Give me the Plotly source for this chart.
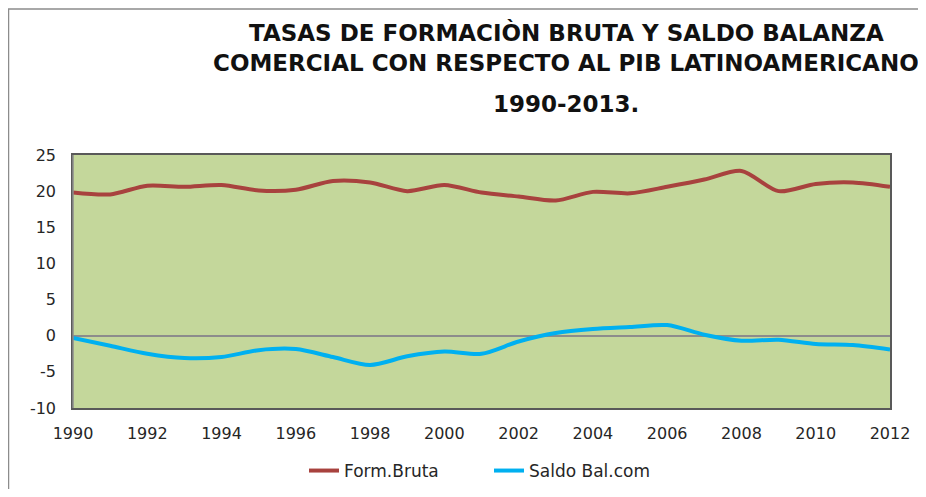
import plotly.graph_objects as go

years = list(range(1990, 2013))
form_bruta = [19.8, 19.55, 20.75, 20.6, 20.85, 20.1, 20.2, 21.4, 21.2, 20.0, 20.85,
              19.8, 19.25, 18.7, 19.9, 19.7, 20.6, 21.6, 22.8, 20.0, 21.0, 21.2, 20.6]
saldo_bal = [-0.32, -1.4, -2.5, -3.1, -2.95, -2.0, -1.85, -2.95, -4.05, -2.85, -2.2,
             -2.5, -0.8, 0.37, 0.92, 1.2, 1.47, 0.14, -0.7, -0.55, -1.15, -1.3, -1.9]

y_tick_vals = [-10, -5, 0, 5, 10, 15, 20, 25]
y_tick_labels = ["-10", "-5", "0", "5", "10", "15", "20", "25"]

title_lines = ["TASAS DE FORMACIÒN BRUTA Y SALDO BALANZA",
               "COMERCIAL CON RESPECTO AL PIB LATINOAMERICANO",
               "1990-2013."]

# page has an 8px body margin; work in page pixels and convert
OFF = 8
W, H = 910, 481
ml, mt = 73 - OFF, 155 - OFF
mr = W - (890 - OFF)
mb = H - (408 - OFF)
pw, ph = W - ml - mr, H - mt - mb

def px_x(px):
    return (px - OFF - ml) / pw

def px_y(py):
    return (H - mb - (py - OFF)) / ph

fig = go.Figure()
fig.add_trace(go.Scatter(x=years, y=form_bruta, name="Form.Bruta", mode="lines",
                         line=dict(color="#A8423E", width=4, shape="spline", smoothing=0.8)))
fig.add_trace(go.Scatter(x=years, y=saldo_bal, name="Saldo Bal.com", mode="lines",
                         line=dict(color="#00B0F0", width=4, shape="spline", smoothing=0.8)))

FONT = "DejaVu Sans, sans-serif"
tick_font = dict(family=FONT, size=16, color="#262626")

fig.update_layout(
    template="none",
    width=W, height=H,
    margin=dict(l=ml, r=mr, t=mt, b=mb, pad=0),
    paper_bgcolor="white",
    plot_bgcolor="#C4D79B",
    showlegend=True,
    legend=dict(orientation="h", xref="container", yref="container",
                x=(304 - OFF) / W, xanchor="left",
                y=1 - (471 - OFF) / H, yanchor="middle",
                entrywidth=140, entrywidthmode="pixels",
                font=dict(family=FONT, size=17, color="#262626"),
                bgcolor="rgba(0,0,0,0)"),
    xaxis=dict(range=[1990, 2012], tick0=1990, dtick=2, showgrid=False, zeroline=False,
               showline=True, linecolor="#595959", linewidth=1.5, mirror=True,
               ticks="", tickfont=tick_font, ticklabelstandoff=10, automargin=False),
    yaxis=dict(range=[-10, 25], tickvals=y_tick_vals, ticktext=y_tick_labels,
               showgrid=False, zeroline=True,
               zerolinecolor="#8C8C8C", zerolinewidth=1.5,
               showline=True, linecolor="#595959", linewidth=1.5, mirror=True,
               ticks="", tickfont=tick_font, ticklabelstandoff=12, automargin=False),
)

# outer chart frame
fig.add_shape(type="rect", xref="paper", yref="paper",
              x0=px_x(8.5), x1=px_x(940), y0=px_y(520), y1=px_y(9),
              line=dict(color="#8C8C8C", width=1.5), fillcolor="rgba(0,0,0,0)", layer="below")
# lighter left axis edge
fig.add_shape(type="line", xref="paper", yref="paper", x0=0, x1=0, y0=0, y1=1,
              line=dict(color="#8C8C8C", width=1.5))

title_y = [33, 63, 104]
for txt, yy in zip(title_lines, title_y):
    fig.add_annotation(text="<b>" + txt + "</b>", xref="paper", yref="paper",
                       x=px_x(566), y=px_y(yy), xanchor="center", yanchor="middle",
                       showarrow=False,
                       font=dict(family=FONT, size=23, color="#111111"))

fig.write_html("out.html")
